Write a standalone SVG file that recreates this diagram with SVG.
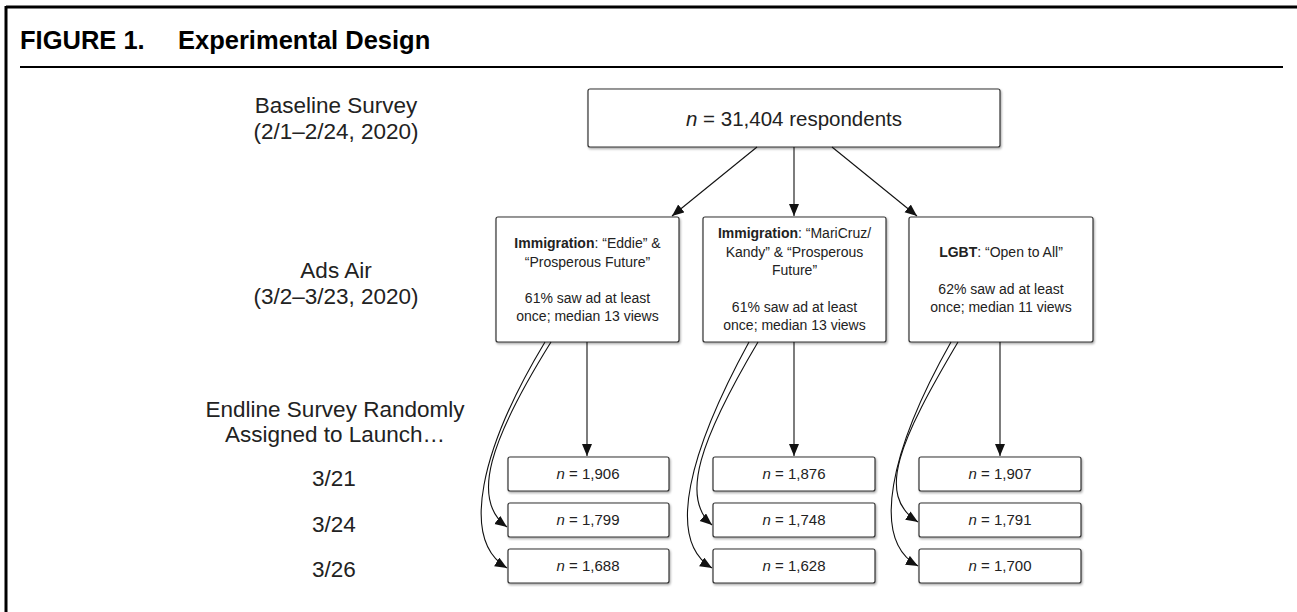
<svg xmlns="http://www.w3.org/2000/svg" width="1297" height="612" viewBox="0 0 1297 612">
<defs>
<style>
.t{font-family:"Liberation Sans",Arial,sans-serif;fill:#222;text-anchor:middle}
.lbl{font-size:22.5px}
.ttl{font-family:"Liberation Sans",Arial,sans-serif;font-weight:bold;font-size:25.5px;fill:#000}
.box{fill:#fff;stroke:#333;stroke-width:1.2}
.mid{font-size:14px}
.bt{font-size:15px}
.c{fill:none;stroke:#111;stroke-width:1.1}
</style>
<filter id="sh" x="-5%" y="-5%" width="110%" height="115%">
<feDropShadow dx="1" dy="1.5" stdDeviation="1" flood-color="#000" flood-opacity="0.35"/>
</filter>
<marker id="ah" markerUnits="userSpaceOnUse" markerWidth="13" markerHeight="11" refX="12" refY="5" orient="auto">
<path d="M0,0 L12,5 L0,10 z" fill="#111"/>
</marker>
</defs>
<rect width="1297" height="612" fill="#fff"/>
<!-- frame -->
<line x1="6" y1="7" x2="1297" y2="7" stroke="#000" stroke-width="3"/>
<line x1="6" y1="6" x2="6" y2="612" stroke="#000" stroke-width="3"/>
<line x1="20" y1="67" x2="1283" y2="67" stroke="#000" stroke-width="2"/>
<text class="ttl" x="20" y="49">FIGURE 1.</text>
<text class="ttl" x="178" y="49">Experimental Design</text>
<!-- row labels -->
<g id="row-labels">
<text class="t lbl" x="336" y="113">Baseline Survey</text>
<text class="t lbl" x="336" y="139">(2/1–2/24, 2020)</text>
<text class="t lbl" x="336" y="278">Ads Air</text>
<text class="t lbl" x="336" y="304">(3/2–3/23, 2020)</text>
<text class="t lbl" x="335" y="417">Endline Survey Randomly</text>
<text class="t lbl" x="335" y="442">Assigned to Launch…</text>
<text class="t lbl" x="334" y="486">3/21</text>
<text class="t lbl" x="334" y="532">3/24</text>
<text class="t lbl" x="334" y="577">3/26</text>
</g>
<!-- nodes -->
<g id="baseline">
<rect class="box" filter="url(#sh)" x="588" y="89" width="412" height="58" rx="2"/>
<text class="t" style="font-size:20.5px" x="794" y="126"><tspan font-style="italic">n</tspan> = 31,404 respondents</text>
</g>
<g id="ad-eddie">
<rect class="box" filter="url(#sh)" x="496" y="217" width="183" height="125" rx="2"/>
<text class="t mid" x="587.5" y="248"><tspan font-weight="bold">Immigration</tspan>: “Eddie” &amp;</text>
<text class="t mid" x="587.5" y="267">“Prosperous Future”</text>
<text class="t mid" x="587.5" y="303">61% saw ad at least</text>
<text class="t mid" x="587.5" y="321">once; median 13 views</text>
</g>
<g id="ad-maricruz">
<rect class="box" filter="url(#sh)" x="703" y="217" width="183" height="125" rx="2"/>
<text class="t mid" x="794.5" y="238"><tspan font-weight="bold">Immigration</tspan>: “MariCruz/</text>
<text class="t mid" x="794.5" y="257">Kandy” &amp; “Prosperous</text>
<text class="t mid" x="794.5" y="275">Future”</text>
<text class="t mid" x="794.5" y="312">61% saw ad at least</text>
<text class="t mid" x="794.5" y="330">once; median 13 views</text>
</g>
<g id="ad-lgbt">
<rect class="box" filter="url(#sh)" x="909" y="217" width="184" height="125" rx="2"/>
<text class="t mid" x="1001" y="257"><tspan font-weight="bold">LGBT</tspan>: “Open to All”</text>
<text class="t mid" x="1001" y="294">62% saw ad at least</text>
<text class="t mid" x="1001" y="312">once; median 11 views</text>
</g>
<g id="c1-321"><rect class="box" filter="url(#sh)" x="508" y="457" width="161" height="34" rx="2"/><text class="t bt" x="588" y="479"><tspan font-style="italic">n</tspan> = 1,906</text></g>
<g id="c1-324"><rect class="box" filter="url(#sh)" x="508" y="503" width="161" height="34" rx="2"/><text class="t bt" x="588" y="525"><tspan font-style="italic">n</tspan> = 1,799</text></g>
<g id="c1-326"><rect class="box" filter="url(#sh)" x="508" y="549" width="161" height="34" rx="2"/><text class="t bt" x="588" y="571"><tspan font-style="italic">n</tspan> = 1,688</text></g>
<g id="c2-321"><rect class="box" filter="url(#sh)" x="713" y="457" width="162" height="34" rx="2"/><text class="t bt" x="794" y="479"><tspan font-style="italic">n</tspan> = 1,876</text></g>
<g id="c2-324"><rect class="box" filter="url(#sh)" x="713" y="503" width="162" height="34" rx="2"/><text class="t bt" x="794" y="525"><tspan font-style="italic">n</tspan> = 1,748</text></g>
<g id="c2-326"><rect class="box" filter="url(#sh)" x="713" y="549" width="162" height="34" rx="2"/><text class="t bt" x="794" y="571"><tspan font-style="italic">n</tspan> = 1,628</text></g>
<g id="c3-321"><rect class="box" filter="url(#sh)" x="919" y="457" width="162" height="34" rx="2"/><text class="t bt" x="1000" y="479"><tspan font-style="italic">n</tspan> = 1,907</text></g>
<g id="c3-324"><rect class="box" filter="url(#sh)" x="919" y="503" width="162" height="34" rx="2"/><text class="t bt" x="1000" y="525"><tspan font-style="italic">n</tspan> = 1,791</text></g>
<g id="c3-326"><rect class="box" filter="url(#sh)" x="919" y="549" width="162" height="34" rx="2"/><text class="t bt" x="1000" y="571"><tspan font-style="italic">n</tspan> = 1,700</text></g>
<!-- connectors -->
<g id="connectors">
<line class="c" x1="757" y1="147" x2="672" y2="216" marker-end="url(#ah)"/>
<line class="c" x1="794" y1="147" x2="794" y2="216" marker-end="url(#ah)"/>
<line class="c" x1="832" y1="147" x2="917" y2="216" marker-end="url(#ah)"/>
<line class="c" x1="587" y1="342" x2="587" y2="456" marker-end="url(#ah)"/>
<line class="c" x1="794" y1="342" x2="794" y2="456" marker-end="url(#ah)"/>
<line class="c" x1="1000" y1="342" x2="1000" y2="456" marker-end="url(#ah)"/>
<path class="c" d="M551 342 C490 440 470 500 507 527" marker-end="url(#ah)"/>
<path class="c" d="M545 342 C480 450 460 540 507 568" marker-end="url(#ah)"/>
<path class="c" d="M758 342 C700 440 680 498 712 525" marker-end="url(#ah)"/>
<path class="c" d="M749 342 C690 450 665 540 712 568" marker-end="url(#ah)"/>
<path class="c" d="M958 342 C900 440 875 495 918 522" marker-end="url(#ah)"/>
<path class="c" d="M951 342 C890 450 870 540 918 566" marker-end="url(#ah)"/>
</g>
</svg>
